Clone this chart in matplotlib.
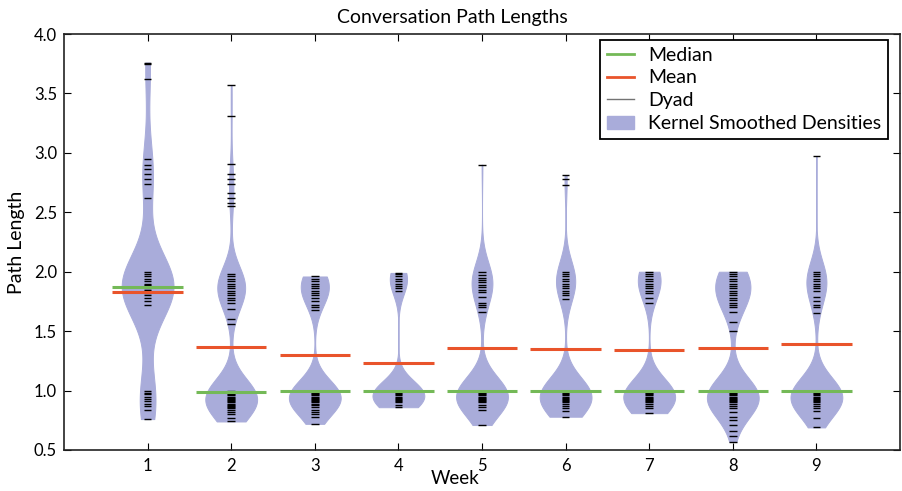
import numpy as np
import matplotlib
matplotlib.use("Agg")
import matplotlib.pyplot as plt
from matplotlib.lines import Line2D
from matplotlib.patches import Patch

plt.rcParams['font.family'] = ['Lato', 'DejaVu Sans']

# weeks on the x axis
weeks = [1, 2, 3, 4, 5, 6, 7, 8, 9]

# median / mean path length per week
median_len = [1.87, 0.99, 1.00, 1.00, 1.00, 1.00, 1.00, 1.00, 1.00]
mean_len = [1.83, 1.37, 1.30, 1.23, 1.36, 1.35, 1.34, 1.36, 1.39]

# dyad path lengths per week (distinct values) and how many dyads share each value
wk1_len = [0.76, 0.84, 0.87, 0.89, 0.91, 0.93, 0.95, 0.97, 0.98, 1.00,
           1.72, 1.75, 1.78, 1.80, 1.82, 1.83, 1.84, 1.85, 1.86, 1.87, 1.88, 1.89, 1.90, 1.92,
           1.94, 1.96, 1.98, 2.00,
           2.62, 2.74, 2.78, 2.82, 2.86, 2.90, 2.95,
           3.62, 3.75, 3.76]
wk1_n = [1, 1, 1, 1, 1, 1, 1, 1, 1, 1,
         1, 1, 1, 2, 2, 2, 2, 2, 2, 2, 2, 2, 2, 2,
         2, 2, 2, 2,
         1, 1, 1, 1, 1, 1, 1,
         1, 1, 1]

wk2_len = [0.74, 0.77, 0.80, 0.82, 0.84, 0.85, 0.86, 0.87, 0.88, 0.89, 0.90, 0.91, 0.92, 0.93,
           0.94, 0.95, 0.96, 0.97, 0.98, 0.99, 1.00,
           1.56, 1.60, 1.69, 1.74, 1.76, 1.78, 1.80, 1.82, 1.84, 1.86, 1.88, 1.90, 1.92, 1.94,
           1.96, 1.98,
           2.55, 2.58, 2.62, 2.66, 2.74, 2.78, 2.82, 2.91, 3.31, 3.57]
wk2_n = [1, 1, 2, 2, 2, 3, 3, 3, 3, 4, 4, 4, 5, 5,
         5, 5, 5, 5, 5, 5, 8,
         1, 1, 1, 2, 2, 3, 3, 3, 4, 4, 4, 4, 4, 4,
         3, 3,
         1, 1, 1, 1, 1, 1, 1, 1, 1, 1]

wk3_len = [0.72, 0.78, 0.80, 0.82, 0.84, 0.86, 0.88, 0.89, 0.90, 0.91, 0.92, 0.93, 0.94, 0.95,
           0.96, 0.97, 0.98, 0.99, 1.00,
           1.68, 1.70, 1.72, 1.75, 1.78, 1.80, 1.82, 1.84, 1.86, 1.88, 1.90, 1.92, 1.94, 1.96]
wk3_n = [1, 1, 1, 2, 2, 3, 3, 4, 4, 4, 5, 5, 5, 6,
         6, 6, 6, 6, 9,
         1, 1, 1, 2, 2, 3, 3, 4, 4, 4, 5, 5, 5, 5]

wk4_len = [0.86, 0.88, 0.90, 0.91, 0.92, 0.93, 0.94, 0.95, 0.96, 0.97, 0.98, 0.99, 1.00,
           1.84, 1.86, 1.88, 1.90, 1.92, 1.94, 1.96, 1.98, 1.99]
wk4_n = [2, 2, 3, 3, 4, 4, 5, 5, 6, 6, 6, 6, 10,
         1, 1, 2, 2, 3, 3, 3, 3, 3]

wk5_len = [0.71, 0.84, 0.86, 0.88, 0.90, 0.91, 0.92, 0.93, 0.94, 0.95, 0.96, 0.97, 0.98, 0.99,
           1.00,
           1.66, 1.70, 1.72, 1.74, 1.79, 1.83, 1.85, 1.87, 1.89, 1.91, 1.93, 1.95, 1.97, 2.00,
           2.90]
wk5_n = [1, 2, 2, 3, 3, 4, 4, 5, 5, 6, 6, 6, 6, 6,
         9,
         1, 1, 1, 1, 1, 2, 2, 2, 3, 3, 3, 3, 3, 4,
         1]

wk6_len = [0.78, 0.83, 0.85, 0.87, 0.89, 0.90, 0.91, 0.92, 0.93, 0.94, 0.95, 0.96, 0.97, 0.98,
           0.99, 1.00,
           1.77, 1.80, 1.82, 1.84, 1.86, 1.88, 1.90, 1.92, 1.94, 1.96, 1.98, 2.00,
           2.73, 2.78, 2.81]
wk6_n = [1, 2, 2, 3, 3, 4, 4, 5, 5, 5, 6, 6, 6, 6,
         6, 9,
         1, 1, 1, 2, 2, 2, 3, 3, 3, 3, 3, 4,
         1, 1, 1]

wk7_len = [0.81, 0.85, 0.87, 0.89, 0.90, 0.91, 0.92, 0.93, 0.94, 0.95, 0.96, 0.97, 0.98, 0.99,
           1.00,
           1.74, 1.78, 1.82, 1.84, 1.86, 1.88, 1.90, 1.92, 1.94, 1.96, 1.98, 2.00]
wk7_n = [2, 2, 3, 3, 4, 4, 5, 5, 5, 6, 6, 6, 6, 6,
         9,
         1, 1, 1, 2, 2, 3, 3, 3, 4, 4, 4, 5]

wk8_len = [0.57, 0.62, 0.66, 0.71, 0.75, 0.78, 0.82, 0.85, 0.87, 0.89, 0.90, 0.91, 0.92, 0.93,
           0.94, 0.95, 0.96, 0.97, 0.98, 0.99, 1.00,
           1.50, 1.58, 1.66, 1.70, 1.72, 1.74, 1.76, 1.78, 1.80, 1.82, 1.84, 1.86, 1.88, 1.90,
           1.92, 1.94, 1.96, 1.98, 2.00]
wk8_n = [1, 1, 1, 1, 1, 1, 2, 2, 3, 3, 4, 4, 5, 5,
         5, 6, 6, 6, 6, 6, 9,
         1, 1, 2, 2, 2, 3, 3, 3, 3, 3, 3, 3, 4, 4,
         4, 4, 4, 4, 6]

wk9_len = [0.69, 0.77, 0.83, 0.85, 0.87, 0.89, 0.90, 0.91, 0.92, 0.93, 0.94, 0.95, 0.96, 0.97,
           0.98, 0.99, 1.00,
           1.65, 1.70, 1.72, 1.75, 1.79, 1.84, 1.86, 1.88, 1.90, 1.92, 1.94, 1.96, 1.98, 2.00,
           2.97]
wk9_n = [1, 1, 2, 2, 3, 3, 4, 4, 5, 5, 5, 6, 6, 6,
         6, 6, 9,
         1, 1, 1, 1, 1, 2, 2, 3, 3, 3, 3, 3, 3, 4,
         1]

dyad_len = [wk1_len, wk2_len, wk3_len, wk4_len, wk5_len, wk6_len, wk7_len, wk8_len, wk9_len]
dyad_n = [wk1_n, wk2_n, wk3_n, wk4_n, wk5_n, wk6_n, wk7_n, wk8_n, wk9_n]

# kernel bandwidth for each week's density, in path-length units
bandwidth = [0.26, 0.16, 0.14, 0.12, 0.16, 0.16, 0.15, 0.16, 0.16]

BEAN = '#a9acda'
GREEN = '#74b957'
RED = '#e9542b'


def fixed_bw(h):
    # matplotlib expects a factor of the data std, so convert
    return lambda kde: h / np.std(kde.dataset, ddof=1)


fig = plt.figure(figsize=(9.02, 4.91), dpi=100)
ax = fig.add_axes([64 / 902, 41 / 491, 836 / 902, 416 / 491])

for i, wk in enumerate(weeks):
    samples = np.repeat(dyad_len[i], dyad_n[i])
    parts = ax.violinplot([samples], positions=[wk], widths=0.62, points=300,
                          showextrema=False, bw_method=fixed_bw(bandwidth[i]))
    for body in parts['bodies']:
        body.set_facecolor(BEAN)
        body.set_edgecolor(BEAN)
        body.set_linewidth(0.7)
        body.set_alpha(1)

    # one short tick per dyad
    ax.hlines(dyad_len[i], wk - 0.045, wk + 0.045, color='k', lw=1.0, zorder=3)

    ax.hlines(median_len[i], wk - 0.42, wk + 0.42, color=GREEN, lw=2.2, zorder=4)
    ax.hlines(mean_len[i], wk - 0.42, wk + 0.42, color=RED, lw=2.2, zorder=4)

ax.set_xlim(0, 10)
ax.set_ylim(0.5, 4.0)
ax.set_xticks(weeks)
ax.set_yticks(np.arange(0.5, 4.01, 0.5))
ax.set_yticklabels(['%.1f' % v for v in np.arange(0.5, 4.01, 0.5)])
ax.tick_params(direction='in', top=True, right=True, length=5, width=0.8,
               labelsize=12)
ax.tick_params(axis='x', pad=6)
ax.tick_params(axis='y', pad=5)
for sp in ax.spines.values():
    sp.set_linewidth(1.2)
    sp.set_color('#222222')

fig.text(452 / 902, 1 - 17 / 491, 'Conversation Path Lengths', ha='center', va='center',
         fontsize=14)
fig.text(455 / 902, 1 - 479 / 491, 'Week', ha='center', va='center', fontsize=13.5)
fig.text(17 / 902, 1 - 242 / 491, 'Path Length', ha='center', va='center', rotation=90,
         fontsize=14)

handles = [Line2D([], [], color=GREEN, lw=2),
           Line2D([], [], color=RED, lw=2),
           Line2D([], [], color='0.45', lw=1),
           Patch(facecolor=BEAN, edgecolor=BEAN)]
labels = ['Median', 'Mean', 'Dyad', 'Kernel Smoothed Densities']
leg = ax.legend(handles, labels, loc='upper right', bbox_to_anchor=(0.986, 0.986),
                borderaxespad=0, fancybox=False, framealpha=1, edgecolor='k',
                fontsize=14, handlelength=1.4, handletextpad=0.75, labelspacing=0.3,
                borderpad=0.35)
leg.get_frame().set_linewidth(1.3)

fig.savefig('out.png', dpi=100)
